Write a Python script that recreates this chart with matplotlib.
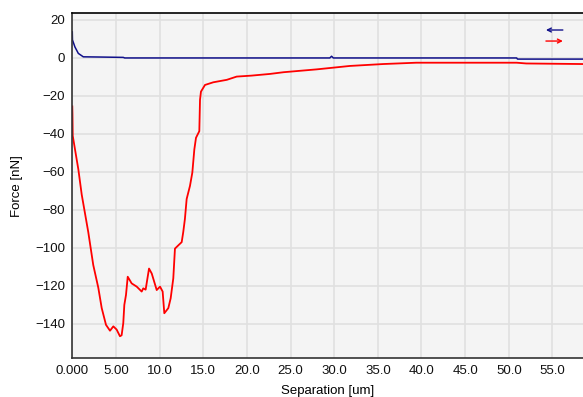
import matplotlib
matplotlib.use("Agg")
import matplotlib.pyplot as plt

# approach curve (blue) and retract curve (red)
blue_sep = [0, 0.02, 0.3, 0.69, 1.26, 3.0, 5.84, 6.0, 29.5, 29.7, 29.9, 50.9, 51.0, 58.5]
blue_force = [13.6, 9.4, 5.7, 2.3, 0.5, 0.4, 0.2, -0.1, -0.1, 0.8, -0.1, -0.1, -0.7, -0.7]

red_sep = [0, 0.02, 0.05, 0.31, 0.69, 1.08, 1.83, 2.4, 2.98, 3.37, 3.86, 4.32, 4.7,
           5.08, 5.46, 5.65, 5.84, 5.96, 6.15, 6.35, 6.8, 7.38, 7.95, 8.13, 8.4,
           8.79, 9.1, 9.67, 10.05, 10.35, 10.54, 11.0, 11.27, 11.57, 11.76, 12.14,
           12.53, 12.71, 12.9, 13.1, 13.48, 13.75, 13.98, 14.17, 14.55, 14.63,
           14.74, 15.2, 16.15, 17.7, 18.83, 20.5, 22.65, 24.2, 28, 31.8, 35.6,
           39.4, 43.3, 50.9, 52, 58.5]
red_force = [-25.6, -30, -41, -48.2, -58.6, -72, -91.7, -109, -121, -131.7, -140.5,
             -143.6, -141.3, -143, -146.5, -146, -139.6, -130, -124.8, -115.2,
             -118.7, -120.4, -123, -121.3, -122, -110.9, -113.5, -122.2, -120.4,
             -123, -134.4, -131.7, -126.5, -116, -100.4, -98.7, -97, -91.7, -84.8,
             -74.3, -67.4, -60.4, -48.2, -42.1, -38.6, -22.1, -17.8, -14.3, -12.9,
             -11.6, -9.9, -9.4, -8.5, -7.6, -6.1, -4.3, -3.3, -2.6, -2.6, -2.6,
             -3.0, -3.3]

xticks = [0, 5, 10, 15, 20, 25, 30, 35, 40, 45, 50, 55]
xtick_labels = ["0.000", "5.00", "10.0", "15.0", "20.0", "25.0", "30.0",
                "35.0", "40.0", "45.0", "50.0", "55.0"]
yticks = [-140, -120, -100, -80, -60, -40, -20, 0, 20]

plt.rcParams['font.family'] = ['Liberation Sans', 'DejaVu Sans']
plt.rcParams['font.size'] = 9.5

fig = plt.figure(figsize=(5.83, 3.97), dpi=100)
ax = fig.add_axes([0.124, 0.098, 0.876, 0.869])
ax.set_facecolor('#f4f4f4')

ax.plot(blue_sep, blue_force, color='#10108a', lw=1.1)
ax.plot(red_sep, red_force, color='#ff0000', lw=1.3)

ax.set_xlim(0, 58.5)
ax.set_ylim(-158, 23.5)
ax.set_xticks(xticks)
ax.set_xticklabels(xtick_labels)
ax.set_yticks(yticks)
ax.tick_params(length=0, pad=5, colors='#111111')
ax.grid(True, color='#e0e0e0', lw=1.2)
ax.set_axisbelow(True)

for s in ['left', 'bottom']:
    ax.spines[s].set_color('#333333')
    ax.spines[s].set_linewidth(1.2)
ax.spines['top'].set_color('black')
ax.spines['top'].set_linewidth(1.2)
ax.spines['right'].set_visible(False)

ax.set_xlabel('Separation [um]', labelpad=6)
ax.set_ylabel('Force [nN]', labelpad=9)

# legend arrows (top right)
ax.annotate('', xy=(0.922, 0.951), xytext=(0.966, 0.951), xycoords='axes fraction',
            arrowprops=dict(arrowstyle='->', color='#10108a', lw=1.0, mutation_scale=7))
ax.annotate('', xy=(0.966, 0.919), xytext=(0.922, 0.919), xycoords='axes fraction',
            arrowprops=dict(arrowstyle='->', color='#ff0000', lw=1.0, mutation_scale=7))

fig.savefig('out.png', dpi=100)
